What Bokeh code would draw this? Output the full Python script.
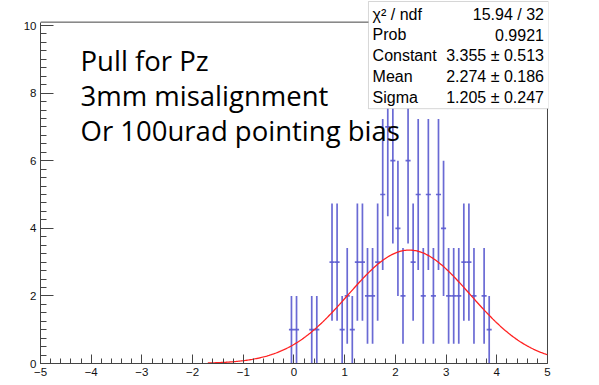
import numpy as np
from bokeh.plotting import figure
from bokeh.models import Range1d, FixedTicker, Label, BoxAnnotation, ColumnDataSource
from bokeh.embed import file_html
from bokeh.resources import INLINE

# ---- data ----
bin_centers = [-0.05, 0.05, 0.35, 0.45, 0.75, 0.85, 0.95, 1.05, 1.15, 1.25, 1.35,
               1.45, 1.55, 1.65, 1.75, 1.85, 1.95, 2.05, 2.15, 2.25, 2.35, 2.45,
               2.55, 2.65, 2.75, 2.85, 2.95, 3.05, 3.15, 3.25, 3.35, 3.45, 3.55,
               3.75, 3.85]
counts = [1, 1, 1, 1, 3, 3, 1, 2, 1, 3, 3,
          2, 2, 3, 5, 7, 6, 4, 2, 6, 3, 5,
          2, 5, 2, 5, 4, 2, 2, 2, 3, 3, 2,
          2, 1]
bin_width = 0.1

fit_constant = 3.355
fit_mean = 2.274
fit_sigma = 1.205
fit_range = [-1.7, 5.0]

stats_names = ["\u03c7\u00b2 / ndf", "Prob", "Constant", "Mean", "Sigma"]
stats_values = ["15.94 / 32", "0.9921", "3.355 \u00b1 0.513",
                "2.274 \u00b1 0.186", "1.205 \u00b1 0.247"]
notes = ["Pull for Pz", "3mm misalignment", "Or 100urad pointing bias"]

x_ticks = [-5, -4, -3, -2, -1, 0, 1, 2, 3, 4, 5]
y_ticks = [0, 2, 4, 6, 8, 10]

# ---- layout constants ----
x_lo, x_hi = -5.0, 5.0
y_frame_top = 10.1

# ---- derived ----
cnt = np.array(counts, dtype=float)
ctr = np.array(bin_centers)
err = np.sqrt(cnt)
src = ColumnDataSource(dict(
    x=ctr, y=cnt, lo=cnt - err, hi=cnt + err,
    xl=ctr - bin_width / 2, xr=ctr + bin_width / 2))

fx = np.linspace(fit_range[0], fit_range[1], 300)
fy = fit_constant * np.exp(-0.5 * ((fx - fit_mean) / fit_sigma) ** 2)

p = figure(width=599, height=385, output_backend="svg", toolbar_location=None,
           x_range=Range1d(x_lo, 5.02), y_range=Range1d(0, 10.74),
           min_border_left=40, min_border_right=51, min_border_top=0,
           min_border_bottom=22)
p.grid.visible = False
p.outline_line_color = None
p.background_fill_color = "white"
p.border_fill_color = "white"

frame_col = "#444444"
for ax in (p.xaxis[0], p.yaxis[0]):
    ax.axis_line_color = frame_col
    ax.major_tick_line_color = frame_col
    ax.minor_tick_line_color = frame_col
    ax.major_tick_out = 0
    ax.minor_tick_out = 0
    ax.major_label_text_font = "Liberation Sans"
    ax.major_label_text_font_size = "11.5px"
    ax.major_label_text_color = "#111111"
    ax.major_label_standoff = 4

p.xaxis[0].bounds = (x_lo, x_hi)
p.yaxis[0].bounds = (0, y_frame_top)
p.xaxis[0].ticker = FixedTicker(ticks=x_ticks,
                                minor_ticks=list(np.round(np.arange(-5, 5.01, 0.2), 2)))
p.yaxis[0].ticker = FixedTicker(ticks=y_ticks,
                                minor_ticks=list(np.arange(0, 10.01, 0.25)))
p.xaxis[0].major_tick_in = 9
p.xaxis[0].minor_tick_in = 5
p.yaxis[0].major_tick_in = 13
p.yaxis[0].minor_tick_in = 6
p.xaxis[0].major_label_overrides = {t: (("\u2212" + str(-t)) if t < 0 else str(t)) for t in x_ticks}

# frame top and right edges
p.segment(x0=[x_lo, x_hi], y0=[y_frame_top, 0], x1=[x_hi, x_hi], y1=[y_frame_top, y_frame_top],
          line_color=frame_col, line_width=1)

blue = "#5a5acf"
p.segment(x0="x", y0="lo", x1="x", y1="hi", source=src, line_color=blue,
          line_width=1.7, line_alpha=0.9)
p.segment(x0="xl", y0="y", x1="xr", y1="y", source=src, line_color=blue,
          line_width=1.7, line_alpha=0.9)

p.line(fx, fy, line_color="#ff2020", line_width=1.3)

# ---- annotation texts ----
note_y = [8.97, 7.93, 6.90]
for t, yy in zip(notes, note_y):
    p.add_layout(Label(x=-4.21, y=yy, text=t, text_font="Open Sans",
                       text_font_size="27.5px", text_color="black",
                       text_baseline="alphabetic"))

# ---- stats box ----
p.add_layout(BoxAnnotation(left=1.469, right=5.02, bottom=7.54, top=10.71,
                           fill_color="white", fill_alpha=1.0,
                           line_color="#777777", line_width=1, level="overlay"))
row_y = [10.33, 9.72, 9.11, 8.49, 7.88]
for name, val, yy in zip(stats_names, stats_values, row_y):
    p.add_layout(Label(x=1.55, y=yy, text=name, text_font="Liberation Sans",
                       text_font_size="16px", text_baseline="middle",
                       text_align="left", text_color="black", level="overlay"))
    p.add_layout(Label(x=4.93, y=yy, text=val, text_font="Liberation Sans",
                       text_font_size="16px", text_baseline="middle",
                       text_align="right", text_color="black", level="overlay"))

open("out.html", "w").write(file_html(p, INLINE))
